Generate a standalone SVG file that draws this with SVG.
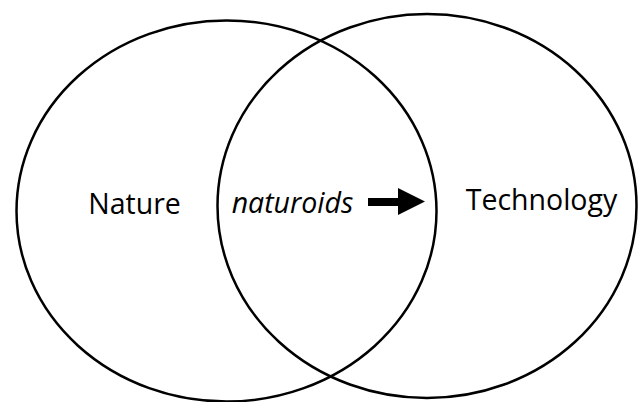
<svg xmlns="http://www.w3.org/2000/svg" width="639" height="402" viewBox="0 0 639 402">
<style>
.set{fill:none;stroke:#000;stroke-width:2.5}
.lbl{font-family:"Open Sans","Liberation Sans",sans-serif;font-size:28.5px;fill:#000;text-anchor:middle}
</style>
<rect width="639" height="402" fill="#fff"/>
<g id="nature">
<ellipse class="set" cx="226.5" cy="211" rx="210" ry="190.5"/>
<text class="lbl" x="134.5" y="214">Nature</text>
</g>
<g id="technology">
<ellipse class="set" cx="427" cy="206" rx="209.5" ry="192"/>
<text class="lbl" x="541.5" y="210">Technology</text>
</g>
<g id="naturoids">
<text class="lbl" x="292.5" y="213" font-style="italic">naturoids</text>
</g>
<g id="connectors">
<polygon points="368,198 398,198 398,188 425,201.5 398,215 398,206 368,206" fill="#000"/>
</g>
</svg>
